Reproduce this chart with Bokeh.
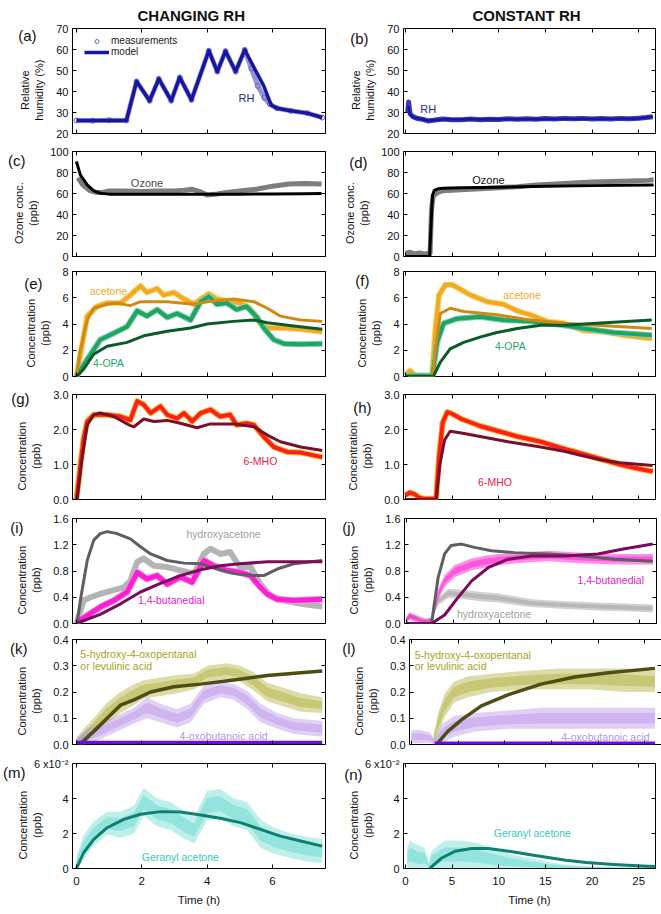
import numpy as np
from bokeh.plotting import figure
from bokeh.layouts import column, row
from bokeh.models import (Label, LinearAxis, FixedTicker, Range1d, Legend,
                          LegendItem, PrintfTickFormatter, Title)
from bokeh.embed import file_html
from bokeh.resources import INLINE

FONT = "Liberation Sans"

# ---------------- data ----------------
# (a) RH, changing-RH experiment
RH_A_T_MEAS = [0.0, 0.5, 1.0, 1.53, 1.84, 2.24, 2.52, 2.90, 3.16, 3.52, 4.05, 4.31, 4.56, 4.87,
               5.15, 5.35, 5.55, 5.75, 5.92, 6.14, 6.55, 7.06, 7.52]
RH_A_MEAS = [26.2, 26.1, 26.3, 26.2, 44.8, 35.6, 46.0, 35.6, 46.7, 36.0, 59.4, 49.5, 59.2, 49.5,
             59.8, 51.0, 42.7, 37.0, 34.0, 32.0, 30.8, 29.7, 27.6]
RH_A_T_MOD = [0.0, 1.53, 1.84, 2.24, 2.52, 2.90, 3.16, 3.52, 4.05, 4.31, 4.56, 4.87, 5.15, 5.73,
              5.96, 6.14, 6.55, 7.06, 7.52]
RH_A_MOD = [26.2, 26.2, 44.8, 35.6, 46.0, 35.6, 46.7, 36.0, 59.4, 49.5, 59.2, 49.5, 59.8, 42.7,
            33.5, 32.0, 30.8, 29.7, 27.6]
# (b) RH, constant-RH experiment
RH_B_T = [0.25, 0.35, 0.5, 0.8, 1.2, 1.8, 2.4, 3.0, 4, 5, 6, 7, 8, 9, 10, 11, 12, 13, 14, 15, 16,
          17, 18, 19, 20, 21, 22, 23, 24, 25, 25.8, 26.5]
RH_B_MEAS = [30, 35, 29.5, 28, 27.3, 26.8, 26.0, 26.3, 26.9, 26.6, 26.5, 26.9, 26.6, 26.8, 26.7,
             27.0, 26.8, 27.0, 26.8, 27.1, 26.9, 27.2, 27.0, 27.2, 26.9, 27.1, 26.9, 27.2, 27.0,
             27.3, 27.6, 28.0]
RH_B_T_MOD = [0.3, 0.5, 1.0, 2.4, 4, 10, 20, 25, 26.5]
RH_B_MOD = [33, 29, 27.5, 26.2, 26.7, 26.8, 27.0, 27.2, 28.0]

# (c) ozone, changing RH
OZ_C_T_MEAS = [0.05, 0.2, 0.4, 0.6, 0.8, 1.0, 1.5, 2.0, 2.5, 3.0, 3.3, 3.55, 3.8, 4.0, 4.3, 4.6,
               5.0, 5.5, 6.0, 6.5, 7.0, 7.5]
OZ_C_MEAS = [75, 68, 63, 61, 61, 62.5, 62.5, 62, 62.5, 62.5, 63, 64, 61.5, 58.5, 59.5, 61, 62.5,
             64, 67, 69, 69.5, 69]
OZ_C_T_MOD = [0.0, 0.12, 0.33, 0.53, 0.73, 1.0, 2.0, 3.0, 4.0, 5.0, 6.0, 7.0, 7.5]
OZ_C_MOD = [90.5, 77.8, 68.3, 62.5, 60.3, 59.4, 59.3, 59.3, 59.3, 59.4, 59.5, 59.8, 60.0]
# (d) ozone, constant RH
OZ_D_T_MEAS = [0.0, 0.5, 1.0, 1.5, 2.0, 2.5, 2.65, 2.8, 3.0, 3.5, 4, 6, 8, 10, 12, 14, 16, 18,
               20, 22, 24, 26, 26.6]
OZ_D_MEAS = [3, 4, 2.5, 3.5, 2.5, 3, 3, 45, 58, 61, 62.5, 63.5, 64.5, 65.5, 66.5, 68, 69, 70,
             71, 71.5, 72, 72.5, 73]
OZ_D_T_MOD = [0.0, 2.6, 2.75, 2.9, 3.1, 3.5, 4, 6, 10, 15, 20, 26.6]
OZ_D_MOD = [0, 0, 30, 58, 63, 64.5, 65, 65.5, 66, 67, 67.5, 68]

# (e) acetone and 4-OPA, changing RH
ACE_E_T = [0, 0.12, 0.33, 0.63, 0.94, 1.35, 1.6, 1.96, 2.16, 2.47, 2.67, 2.98, 3.23, 3.6, 3.8,
           4.05, 4.3, 4.7, 5.0, 5.3, 5.6, 5.84, 6.35, 6.86, 7.52]
ACE_E_MEAS = [0, 1.6, 4.6, 5.35, 5.6, 5.6, 6.1, 6.9, 6.4, 6.7, 6.2, 6.4, 6.0, 5.5, 5.9, 6.3, 5.9,
              5.7, 5.6, 5.2, 4.1, 3.7, 3.7, 3.6, 3.4]
ACE_E_T_MOD = [0, 0.1, 0.33, 0.53, 0.94, 1.24, 1.65, 1.96, 2.78, 3.6, 4.0, 4.8, 5.43, 5.84, 6.24,
               6.86, 7.52]
ACE_E_MOD = [0, 1.8, 4.3, 5.2, 5.5, 5.6, 5.4, 5.7, 5.7, 5.5, 5.7, 5.9, 5.7, 5.2, 4.6, 4.3, 4.2]
OPA_E_T = [0, 0.33, 0.73, 1.14, 1.55, 1.86, 2.16, 2.47, 2.78, 3.08, 3.49, 3.8, 4.05, 4.3, 4.6,
           4.9, 5.2, 5.53, 5.73, 6.04, 6.35, 6.86, 7.52]
OPA_E_MEAS = [0, 1.3, 2.8, 3.3, 3.8, 5.0, 4.6, 5.1, 4.5, 4.8, 4.3, 5.7, 6.1, 5.5, 5.6, 5.1, 5.35,
              4.5, 3.7, 2.8, 2.5, 2.45, 2.5]
OPA_E_T_MOD = [0, 0.22, 0.53, 0.94, 1.55, 2.06, 2.78, 3.49, 4.0, 4.8, 5.43, 5.84, 6.65, 7.52]
OPA_E_MOD = [0, 0.55, 1.7, 2.3, 2.6, 3.1, 3.45, 3.7, 4.0, 4.2, 4.3, 4.1, 3.85, 3.6]
# (f) acetone and 4-OPA, constant RH
ACE_F_T = [0, 0.5, 1.0, 2.0, 2.86, 3.2, 3.6, 4.3, 5.0, 5.5, 7.0, 8.75, 10.5, 12, 13.4, 15.2, 17,
           19.1, 21.25, 23.4, 26.4]
ACE_F_MEAS = [0.1, 0.45, 0.1, 0.05, 0.05, 3.5, 6.2, 7.0, 7.0, 6.8, 6.2, 5.7, 5.5, 5.0, 4.7, 4.2,
              4.05, 3.5, 3.4, 3.15, 2.9]
ACE_F_T_MOD = [0, 2.9, 3.3, 3.75, 4.8, 6.25, 9.8, 13.4, 17, 20.5, 26.4]
ACE_F_MOD = [0, 0, 2.5, 4.8, 5.2, 4.95, 4.7, 4.3, 4.05, 3.9, 3.65]
OPA_F_T = [0, 2.0, 2.9, 3.4, 4.1, 5.5, 8, 10.5, 13.4, 17, 19.1, 22.3, 26.4]
OPA_F_MEAS = [0.05, 0.05, 0.05, 2.6, 4.05, 4.4, 4.55, 4.3, 4.2, 3.9, 3.65, 3.35, 3.15]
OPA_F_T_MOD = [0, 3.0, 3.75, 4.8, 6.25, 8, 9.8, 12, 14.5, 17, 20.5, 26.4]
OPA_F_MOD = [0, 0, 1.1, 2.1, 2.6, 3.0, 3.35, 3.65, 3.9, 3.9, 4.05, 4.3]

# (g) 6-MHO, changing RH
MHO_G_T = [0, 0.12, 0.22, 0.33, 0.53, 0.94, 1.35, 1.65, 1.86, 2.06, 2.27, 2.57, 2.78, 3.08, 3.29,
           3.54, 3.8, 4.1, 4.4, 4.7, 4.9, 5.2, 5.43, 5.73, 6.04, 6.45, 6.86, 7.52]
MHO_G_MEAS = [0, 0.97, 1.74, 2.23, 2.42, 2.42, 2.37, 2.27, 2.81, 2.71, 2.47, 2.66, 2.42, 2.32,
              2.47, 2.23, 2.47, 2.57, 2.37, 2.42, 2.13, 2.18, 2.13, 1.79, 1.5, 1.36, 1.34, 1.21]
MHO_G_T_MOD = [0, 0.02, 0.17, 0.33, 0.53, 0.73, 1.14, 1.65, 1.76, 2.06, 2.37, 2.78, 3.18, 3.69,
               4.1, 4.82, 5.43, 5.84, 6.24, 6.86, 7.52]
MHO_G_MOD = [0, 0, 1.16, 2.13, 2.42, 2.47, 2.37, 2.11, 2.08, 2.3, 2.23, 2.26, 2.18, 2.05, 2.16,
             2.16, 2.08, 1.84, 1.65, 1.5, 1.4]
# (h) 6-MHO, constant RH
MHO_H_T = [0, 0.5, 1.0, 1.5, 2.0, 3.0, 3.3, 3.6, 4.0, 4.5, 5.0, 6, 8, 10, 12, 14.5, 17, 19, 21,
           23, 25, 26.5]
MHO_H_MEAS = [0.12, 0.2, 0.15, 0.05, 0.02, 0.02, 0.05, 1.2, 2.2, 2.5, 2.45, 2.3, 2.1, 1.95, 1.8,
              1.65, 1.45, 1.3, 1.15, 1.0, 0.88, 0.8]
MHO_H_T_MOD = [0, 3.3, 3.7, 4.2, 4.8, 6, 8, 11, 14.5, 17, 19, 21, 23, 26.5]
MHO_H_MOD = [0, 0, 1.0, 1.7, 1.95, 1.9, 1.8, 1.65, 1.5, 1.38, 1.25, 1.13, 1.05, 0.97]

# (i) hydroxyacetone and 1,4-butanedial, changing RH
HYD_I_T = [0, 0.22, 0.43, 0.73, 1.14, 1.45, 1.65, 1.86, 2.06, 2.37, 2.78, 3.18, 3.6, 3.9, 4.1,
           4.4, 4.7, 5.0, 5.33, 5.63, 5.94, 6.35, 6.86, 7.52]
HYD_I_MEAS = [0, 0.35, 0.4, 0.45, 0.51, 0.55, 0.65, 0.94, 0.99, 0.88, 0.86, 0.81, 0.76, 1.06,
              1.14, 1.06, 1.09, 0.86, 0.86, 0.6, 0.42, 0.35, 0.3, 0.26]
HYD_I_T_MOD = [0, 0.02, 0.12, 0.33, 0.53, 0.73, 0.94, 1.24, 1.65, 1.96, 2.27, 2.78, 3.29, 3.8,
               4.3, 4.82, 5.33, 5.73, 6.14, 6.65, 7.52]
HYD_I_MOD = [0, 0, 0.35, 0.96, 1.27, 1.37, 1.40, 1.37, 1.29, 1.17, 1.06, 0.96, 0.92, 0.91, 0.83,
             0.76, 0.73, 0.73, 0.83, 0.91, 0.96]
BUT_I_T = [0, 0.33, 0.73, 1.14, 1.55, 1.86, 2.16, 2.47, 2.78, 3.18, 3.54, 3.9, 4.2, 4.6, 5.0,
           5.33, 5.58, 5.84, 6.14, 6.65, 7.52]
BUT_I_MEAS = [0.02, 0.12, 0.25, 0.35, 0.48, 0.78, 0.68, 0.73, 0.6, 0.71, 0.63, 0.96, 0.88, 0.81,
              0.78, 0.73, 0.58, 0.45, 0.37, 0.35, 0.37]
BUT_I_T_MOD = [0, 0.73, 1.35, 1.96, 2.57, 3.18, 3.8, 4.4, 5.0, 5.84, 7.52]
BUT_I_MOD = [0, 0.14, 0.3, 0.48, 0.61, 0.73, 0.82, 0.88, 0.91, 0.94, 0.94]
# (j) hydroxyacetone and 1,4-butanedial, constant RH
BUT_J_T = [0, 0.3, 0.8, 1.5, 2.2, 2.7, 3.4, 4.1, 5.2, 7, 8.75, 11.6, 15.2, 18.75, 22.3, 26.4]
BUT_J_MEAS = [0.05, 0.12, 0.08, 0.04, 0.03, 0.05, 0.44, 0.65, 0.8, 0.9, 0.95, 1.0, 1.03, 1.0,
              0.98, 0.98]
BUT_J_SPREAD = [0.05, 0.05, 0.05, 0.04, 0.03, 0.04, 0.08, 0.09, 0.09, 0.09, 0.09, 0.08, 0.08,
                0.08, 0.08, 0.08]
HYD_J_T = [0, 0.5, 1.0, 1.5, 2.0, 2.7, 3.4, 4.5, 6.25, 8, 9.8, 13.4, 17, 20.5, 26.4]
HYD_J_MEAS = [0.05, 0.12, 0.1, 0.07, 0.05, 0.06, 0.34, 0.46, 0.44, 0.41, 0.39, 0.31, 0.28, 0.26,
              0.23]
HYD_J_SPREAD = [0.04, 0.04, 0.04, 0.04, 0.03, 0.03, 0.06, 0.07, 0.07, 0.07, 0.07, 0.06, 0.06,
                0.06, 0.06]
HYD_J_T_MOD = [0, 2.7, 3.4, 4.1, 4.8, 5.9, 7.3, 9.1, 11.6, 15.2, 18.75, 22.3, 26.4]
HYD_J_MOD = [0, 0, 0.7, 1.06, 1.19, 1.21, 1.16, 1.11, 1.08, 1.06, 1.03, 0.98, 0.95]
BUT_J_T_MOD = [0, 2.7, 4.1, 5.5, 7, 8.75, 10.9, 13.4, 17, 20.5, 23.4, 26.4]
BUT_J_MOD = [0, 0, 0.13, 0.39, 0.65, 0.85, 0.98, 1.03, 1.03, 1.06, 1.14, 1.21]

# (k) 5-hydroxy-4-oxopentanal and 4-oxobutanoic acid, changing RH
HOX_K_T = [0, 0.22, 0.53, 0.94, 1.35, 1.76, 2.06, 2.57, 3.08, 3.59, 4.0, 4.6, 5.0, 5.43, 5.84,
           6.35, 6.86, 7.52]
HOX_K_MEAS = [0.01, 0.03, 0.07, 0.12, 0.16, 0.19, 0.21, 0.22, 0.23, 0.24, 0.27, 0.28, 0.27, 0.24,
              0.2, 0.18, 0.16, 0.15]
HOX_K_SPREAD = [0.015, 0.03, 0.03, 0.04, 0.04, 0.04, 0.035, 0.035, 0.035, 0.03, 0.03, 0.03, 0.03,
                0.035, 0.035, 0.035, 0.035, 0.03]
HOX_K_T_MOD = [0.1, 0.53, 0.94, 1.35, 1.76, 2.27, 2.98, 3.8, 4.82, 5.84, 7.52]
HOX_K_MOD = [0, 0.05, 0.1, 0.15, 0.17, 0.2, 0.22, 0.23, 0.246, 0.263, 0.28]
OXB_K_T = [0, 0.33, 0.73, 1.24, 1.76, 2.16, 2.57, 3.08, 3.49, 3.9, 4.4, 4.82, 5.22, 5.63, 6.14,
           6.65, 7.52]
OXB_K_MEAS = [0.01, 0.03, 0.05, 0.08, 0.11, 0.14, 0.12, 0.1, 0.12, 0.19, 0.21, 0.2, 0.17, 0.12,
              0.09, 0.07, 0.06]
OXB_K_SPREAD = [0.015, 0.03, 0.03, 0.03, 0.03, 0.04, 0.035, 0.035, 0.035, 0.035, 0.03, 0.03,
                0.035, 0.035, 0.03, 0.03, 0.03]
OXB_K_T_MOD = [0, 7.52]
OXB_K_MOD = [0.008, 0.008]
# (l) same species, constant RH
HOX_L_T = [2.4, 2.86, 3.57, 4.6, 6.1, 8.6, 12.1, 15.7, 19.3, 22.9, 26.1]
HOX_L_MEAS = [0.02, 0.08, 0.15, 0.2, 0.22, 0.235, 0.245, 0.25, 0.25, 0.245, 0.24]
HOX_L_SPREAD = [0.02, 0.04, 0.045, 0.04, 0.04, 0.035, 0.035, 0.04, 0.04, 0.045, 0.04]
HOX_L_T_MOD = [2.7, 3.9, 5.4, 7.5, 10.4, 13.9, 17.5, 21.1, 26.1]
HOX_L_MOD = [0, 0.05, 0.095, 0.147, 0.19, 0.23, 0.257, 0.273, 0.29]
OXB_L_T = [0, 1.0, 2.0, 2.5, 3.2, 4.6, 6.8, 10.4, 13.9, 17.5, 21.1, 26.1]
OXB_L_MEAS = [0.03, 0.03, 0.025, 0.01, 0.04, 0.07, 0.085, 0.095, 0.1, 0.1, 0.1, 0.1]
OXB_L_SPREAD = [0.025, 0.025, 0.02, 0.01, 0.035, 0.04, 0.035, 0.035, 0.04, 0.04, 0.04, 0.04]
OXB_L_T_MOD = [2.5, 26.1]
OXB_L_MOD = [0.005, 0.005]

# (m) geranyl acetone, changing RH  (units of 1e-2 ppb)
GER_M_T = [0, 0.22, 0.53, 0.94, 1.35, 1.76, 2.06, 2.47, 2.88, 3.29, 3.6, 4.0, 4.4, 4.82, 5.22,
           5.63, 6.04, 6.55, 7.06, 7.52]
GER_M_MEAS = [0.3, 1.2, 2.0, 2.6, 2.5, 2.8, 3.8, 3.2, 3.0, 2.5, 2.2, 3.6, 3.7, 3.2, 3.0, 2.0, 1.6,
              1.3, 1.1, 1.0]
GER_M_SPREAD = [0.4, 0.7, 0.7, 0.65, 0.75, 0.8, 0.8, 0.8, 0.8, 0.8, 0.75, 0.85, 0.85, 0.8, 0.8,
                0.8, 0.75, 0.7, 0.7, 0.7]
GER_M_T_MOD = [0, 0.22, 0.53, 0.94, 1.45, 1.96, 2.57, 3.18, 3.8, 4.4, 5.02, 5.63, 6.24, 6.86, 7.52]
GER_M_MOD = [0, 0.9, 1.66, 2.33, 2.81, 3.1, 3.25, 3.23, 3.06, 2.87, 2.62, 2.24, 1.85, 1.57, 1.28]
# (n) geranyl acetone, constant RH  (units of 1e-2 ppb)
GER_N_T = [0.2, 0.5, 1.0, 1.5, 2.0, 2.3, 2.5, 2.8, 4.2, 6.0, 7.8, 9.6, 11.4, 13.2, 15.0, 16.9, 19,
           22, 26]
GER_N_MEAS = [0.6, 0.8, 0.7, 0.6, 0.6, 0.4, 0.15, 0.5, 0.8, 0.8, 0.7, 0.5, 0.35, 0.25, 0.15, 0.1,
              0.06, 0.04, 0.03]
GER_N_SPREAD = [0.6, 0.8, 0.75, 0.7, 0.6, 0.4, 0.15, 0.5, 0.8, 0.8, 0.75, 0.6, 0.45, 0.35, 0.25,
                0.15, 0.08, 0.05, 0.04]
GER_N_T_MOD = [2.6, 3.9, 5.3, 7.1, 8.9, 10.7, 12.9, 15.1, 17.2, 19.4, 22.3, 25.9, 27.0]
GER_N_MOD = [0, 0.6, 0.98, 1.14, 1.14, 1.02, 0.83, 0.64, 0.47, 0.34, 0.23, 0.13, 0.11]

# axes
LEFT_XR = (-0.12, 7.62)
RIGHT_XR = (-0.2, 26.8)
LEFT_XT = [0, 2, 4, 6]
RIGHT_XT = [0, 5, 10, 15, 20, 25]
YT_RH = [20, 30, 40, 50, 60, 70]
YT_OZ = [0, 20, 40, 60, 80, 100]
YT_E = [0, 2, 4, 6, 8]
YT_G = [0, 1, 2, 3]
YT_I = [0, 0.4, 0.8, 1.2, 1.6]
YT_K = [0, 0.1, 0.2, 0.3, 0.4]
YT_M = [0, 2, 4, 6]

# ---------------- layout helpers ----------------
FH = 105
ROW_BORDERS = [(27, 9), (9, 7), (8, 9), (9, 9), (10, 8), (8, 9), (10, 42)]
PAD = "\u00a0" * 6   # trailing no-break spaces: centre the y label a little below mid-frame


def style_axis(ax, show, size="11px"):
    ax.major_tick_in = 4
    ax.major_tick_out = 0
    ax.minor_tick_line_color = None
    ax.major_tick_line_color = "black"
    ax.axis_line_color = None
    ax.major_label_text_font = FONT
    if show:
        ax.major_label_text_color = "#111111"
        ax.major_label_text_font_size = size
        ax.major_label_standoff = 4
    else:
        ax.major_label_text_color = None
        ax.major_label_text_font_size = "1px"
        ax.major_label_standoff = 0


def make_panel(side, r, yr, yticks, ylabel, tag, tag_pos, tag_standoff, yfmt=None,
               bottom=False):
    top, bot = ROW_BORDERS[r]
    if side == "L":
        xr, xt, fw, bl, br = LEFT_XR, LEFT_XT, 253, 72, 14
    else:
        xr, xt, fw, bl, br = RIGHT_XR, RIGHT_XT, 252, 64, 4
    p = figure(frame_width=fw, frame_height=FH, x_range=Range1d(*xr), y_range=Range1d(*yr),
               min_border_left=bl, min_border_right=br, min_border_top=top,
               min_border_bottom=bot, output_backend="svg", toolbar_location=None)
    p.xgrid.visible = False
    p.ygrid.visible = False
    p.outline_line_color = "black"
    p.outline_line_width = 1
    p.outline_line_alpha = 1
    xa = p.below[0]
    ya = p.left[0]
    xa.ticker = FixedTicker(ticks=xt)
    ya.ticker = FixedTicker(ticks=yticks)
    if yfmt:
        ya.formatter = PrintfTickFormatter(format=yfmt)
    style_axis(xa, bottom, "11.5px")
    style_axis(ya, True)
    ya.axis_label = "\n".join(line + PAD for line in ylabel.split("\n"))
    ya.axis_label_text_font = FONT
    ya.axis_label_text_font_size = "11px"
    ya.axis_label_text_font_style = "normal"
    ya.axis_label_text_color = "#111111"
    ya.axis_label_standoff = 8
    if bottom:
        xa.axis_label = "Time (h)"
        xa.axis_label_text_font = FONT
        xa.axis_label_text_font_size = "11.5px"
        xa.axis_label_text_font_style = "normal"
        xa.axis_label_text_color = "#111111"
        xa.axis_label_standoff = 6
        xa.major_label_standoff = 8
    ta = LinearAxis(ticker=FixedTicker(ticks=xt))
    style_axis(ta, False)
    p.add_layout(ta, "above")
    ra = LinearAxis(ticker=FixedTicker(ticks=yticks))
    style_axis(ra, False)
    p.add_layout(ra, "right")
    # panel tag "(a)" etc. rendered as the single label of an extra, line-less left axis
    p.extra_y_ranges = {"tag": Range1d(0, FH)}
    tg = LinearAxis(y_range_name="tag", ticker=FixedTicker(ticks=[tag_pos]),
                    major_label_overrides={tag_pos: tag})
    tg.major_tick_line_color = None
    tg.minor_tick_line_color = None
    tg.axis_line_color = None
    tg.major_tick_in = 0
    tg.major_tick_out = 0
    tg.major_label_standoff = tag_standoff
    tg.major_label_text_font = FONT
    tg.major_label_text_font_size = "15px"
    tg.major_label_text_color = "#111111"
    p.add_layout(tg, "left")
    return p


def header(p, text, offset):
    p.title = Title(text=text, align="left", offset=offset, text_font=FONT,
                    text_font_size="15px", text_font_style="bold", text_color="#111111",
                    standoff=9)


def note(p, x, y, text, color, align="center", size="10.5px"):
    p.add_layout(Label(x=x, y=y, text=text, text_font=FONT, text_font_size=size,
                       text_color=color, text_align=align, text_baseline="middle"))


def thick(p, t, y, color, width, edge=None, alpha=1.0):
    if edge:
        p.line(t, y, line_color=edge, line_width=width + 2, line_join="round", alpha=alpha)
    return p.line(t, y, line_color=color, line_width=width, line_join="round", alpha=alpha)


def cloud(p, t, c, s, color, alpha=0.32):
    c = np.asarray(c, dtype=float)
    s = np.asarray(s, dtype=float)
    p.varea(x=t, y1=np.clip(c - s, 0, None), y2=c + s, fill_color=color, fill_alpha=alpha)
    p.varea(x=t, y1=np.clip(c - 0.5 * s, 0, None), y2=c + 0.5 * s, fill_color=color,
            fill_alpha=alpha)


def model(p, t, y, color, width=3.0):
    return p.line(t, y, line_color=color, line_width=width, line_join="round")


# ---------------- panels ----------------
RH_LAB = "Relative\nhumidity (%)"
OZ_LAB = "Ozone conc.\n(ppb)"
C_LAB = "Concentration\n(ppb)"

# (a)
pa = make_panel("L", 0, (20, 70), YT_RH, RH_LAB, "(a)", 98, -21)
header(pa, "CHANGING RH", 65)
pa.line(RH_A_T_MEAS, RH_A_MEAS, line_color="#7b7bc8", line_width=5, line_join="round", alpha=0.8)
meas_a = pa.scatter(RH_A_T_MEAS, RH_A_MEAS, marker="circle", size=5, fill_color=None,
                    line_color="#6565c0")
mod_a = model(pa, RH_A_T_MOD, RH_A_MOD, "#1616a0", 3.5)
leg = Legend(items=[LegendItem(label="measurements", renderers=[meas_a]),
                    LegendItem(label="model", renderers=[mod_a])],
             location=(12, 76), background_fill_alpha=0, border_line_color=None,
             label_text_font=FONT, label_text_font_size="10px", label_text_color="#222222",
             glyph_width=25, glyph_height=10, label_height=10, spacing=0, padding=3, margin=0,
             label_standoff=2)
pa.add_layout(leg)
note(pa, 5.2, 36.8, "RH", "#2a2a8c", size="11px")

# (b)
pb = make_panel("R", 0, (20, 70), YT_RH, RH_LAB, "(b)", 95.5, -22)
header(pb, "CONSTANT RH", 69)
pb.line(RH_B_T, RH_B_MEAS, line_color="#3a3ab0", line_width=5, line_join="round")
model(pb, RH_B_T_MOD, RH_B_MOD, "#1616a0", 2.5)
note(pb, 1.6, 31.8, "RH", "#2a2a8c", align="left", size="11px")

# (c)
pc = make_panel("L", 1, (0, 100), YT_OZ, OZ_LAB, "(c)", 96.5, -16)
thick(pc, OZ_C_T_MEAS, OZ_C_MEAS, "#7d7d7d", 5)
model(pc, OZ_C_T_MOD, OZ_C_MOD, "#000000", 3)
note(pc, 2.16, 69.8, "Ozone", "#4a4a4a", size="11px")

# (d)
pd = make_panel("R", 1, (0, 100), YT_OZ, OZ_LAB, "(d)", 94, -27)
thick(pd, OZ_D_T_MEAS, OZ_D_MEAS, "#7d7d7d", 5)
model(pd, OZ_D_T_MOD, OZ_D_MOD, "#000000", 3)
note(pd, 8.9, 73.3, "Ozone", "#111111", size="11px")

# (e)
pe = make_panel("L", 2, (0, 8), YT_E, C_LAB, "(e)", 93.5, -21)
thick(pe, ACE_E_T, ACE_E_MEAS, "#f4aa1e", 4, edge="#f7d27a")
thick(pe, OPA_E_T, OPA_E_MEAS, "#1fa463", 4, edge="#7fd0b0")
model(pe, ACE_E_T_MOD, ACE_E_MOD, "#cf8a14", 3)
model(pe, OPA_E_T_MOD, OPA_E_MOD, "#0b5a2a", 3)
note(pe, 0.98, 6.5, "acetone", "#f0a828")
note(pe, 0.98, 1.04, "4-OPA", "#1fa463")

# (f)
pf = make_panel("R", 2, (0, 8), YT_E, C_LAB, "(f)", 96, -17)
thick(pf, ACE_F_T, ACE_F_MEAS, "#f4aa1e", 4, edge="#f7d27a")
thick(pf, OPA_F_T, OPA_F_MEAS, "#1fa463", 4, edge="#7fd0b0")
model(pf, ACE_F_T_MOD, ACE_F_MOD, "#cf8a14", 3)
model(pf, OPA_F_T_MOD, OPA_F_MOD, "#0b5a2a", 3)
note(pf, 12.5, 6.2, "acetone", "#f0a828")
note(pf, 11.25, 2.3, "4-OPA", "#1fa463")

# (g)
pg = make_panel("L", 3, (0, 3), YT_G, C_LAB, "(g)", 101.5, -17, yfmt="%.1f")
thick(pg, MHO_G_T, MHO_G_MEAS, "#ff1e1e", 4, edge="#f5b820")
model(pg, MHO_G_T_MOD, MHO_G_MOD, "#7a0f2a", 3)
note(pg, 5.63, 1.09, "6-MHO", "#e8204c")

# (h)
ph = make_panel("R", 3, (0, 3), YT_G, C_LAB, "(h)", 92, -28, yfmt="%.1f")
thick(ph, MHO_H_T, MHO_H_MEAS, "#ff1e1e", 4, edge="#f5b820")
model(ph, MHO_H_T_MOD, MHO_H_MOD, "#7a0f2a", 3)
note(ph, 9.6, 0.51, "6-MHO", "#e8204c")

# (i)
pi = make_panel("L", 4, (0, 1.6), YT_I, C_LAB, "(i)", 96, -11, yfmt="%.1f")
thick(pi, HYD_I_T, HYD_I_MEAS, "#acacac", 6, alpha=0.9)
thick(pi, BUT_I_T, BUT_I_MEAS, "#ff1ed2", 5, edge="#e2a0ec")
model(pi, HYD_I_T_MOD, HYD_I_MOD, "#5f5f5f", 3)
model(pi, BUT_I_T_MOD, BUT_I_MOD, "#790c5c", 3)
note(pi, 4.5, 1.37, "hydroxyacetone", "#a0a0a0")
note(pi, 2.9, 0.36, "1,4-butanedial", "#e01cc8")

# (j)
pj = make_panel("R", 4, (0, 1.6), YT_I, C_LAB, "(j)", 96.5, -11, yfmt="%.1f")
cloud(pj, HYD_J_T, HYD_J_MEAS, HYD_J_SPREAD, "#9a9a9a", 0.45)
cloud(pj, BUT_J_T, BUT_J_MEAS, BUT_J_SPREAD, "#ff1ed2", 0.5)
model(pj, HYD_J_T_MOD, HYD_J_MOD, "#5f5f5f", 3)
model(pj, BUT_J_T_MOD, BUT_J_MOD, "#790c5c", 3)
note(pj, 21.9, 0.66, "1,4-butanedial", "#e01cc8")
note(pj, 9.4, 0.14, "hydroxyacetone", "#a0a0a0")

# (k)
pk = make_panel("L", 5, (0, 0.4), YT_K, C_LAB, "(k)", 96.5, -15, yfmt="%.1f")
cloud(pk, HOX_K_T, HOX_K_MEAS, HOX_K_SPREAD, "#a8a828", 0.4)
cloud(pk, OXB_K_T, OXB_K_MEAS, OXB_K_SPREAD, "#b58ae6", 0.4)
model(pk, HOX_K_T_MOD, HOX_K_MOD, "#4d4d14", 3.5)
model(pk, OXB_K_T_MOD, OXB_K_MOD, "#6a10d6", 3.5)
note(pk, 0.12, 0.345, "5-hydroxy-4-oxopentanal", "#a4a422", align="left")
note(pk, 0.12, 0.30, "or levulinic acid", "#a4a422", align="left")
note(pk, 4.5, 0.033, "4-oxobutanoic acid", "#b890e8")

# (l)
pl = make_panel("R", 5, (0, 0.4), YT_K, C_LAB, "(l)", 96.5, -6, yfmt="%.1f")
cloud(pl, HOX_L_T, HOX_L_MEAS, HOX_L_SPREAD, "#a8a828", 0.4)
cloud(pl, OXB_L_T, OXB_L_MEAS, OXB_L_SPREAD, "#b58ae6", 0.4)
model(pl, HOX_L_T_MOD, HOX_L_MOD, "#4d4d14", 3.5)
model(pl, OXB_L_T_MOD, OXB_L_MOD, "#6a10d6", 3.5)
note(pl, 0.36, 0.34, "5-hydroxy-4-oxopentanal", "#a4a422", align="left")
note(pl, 0.36, 0.30, "or levulinic acid", "#a4a422", align="left")
note(pl, 20.8, 0.03, "4-oxobutanoic acid", "#b890e8")

# (m)
pm = make_panel("L", 6, (0, 6), YT_M, C_LAB, "(m)", 96.5, -12, bottom=True)
pm.left[0].major_label_overrides = {6: "6 x10\u207b\u00b2"}
pm.left[0].axis_label_standoff = -12
cloud(pm, GER_M_T, GER_M_MEAS, GER_M_SPREAD, "#46d2c4", 0.35)
model(pm, GER_M_T_MOD, GER_M_MOD, "#0f8070", 3)
note(pm, 3.18, 0.65, "Geranyl acetone", "#38c8b8")

# (n)
pn = make_panel("R", 6, (0, 6), YT_M, C_LAB, "(n)", 94, -18, bottom=True)
pn.left[0].major_label_overrides = {6: "6 x10\u207b\u00b2"}
pn.left[0].axis_label_standoff = -12
cloud(pn, GER_N_T, GER_N_MEAS, GER_N_SPREAD, "#46d2c4", 0.35)
model(pn, GER_N_T_MOD, GER_N_MOD, "#0f8070", 3)
note(pn, 13.6, 2.03, "Geranyl acetone", "#38c8b8")

layout = column(row(pa, pb), row(pc, pd), row(pe, pf), row(pg, ph), row(pi, pj),
                row(pk, pl), row(pm, pn))

open("out.html", "w").write(file_html(layout, INLINE))
